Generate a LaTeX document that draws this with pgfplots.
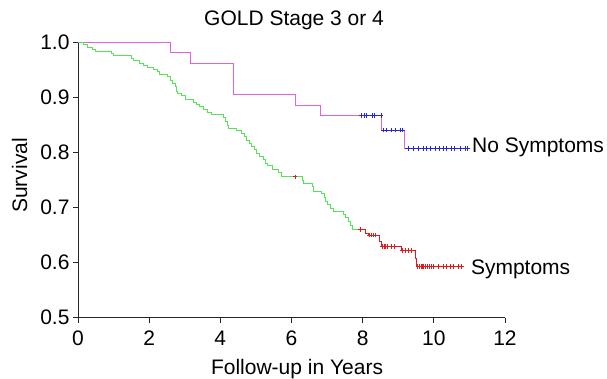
\documentclass[border=0pt]{standalone}
\usepackage{fontspec}
\setmainfont{Liberation Sans}
\usepackage{pgfplots}
\pgfplotsset{compat=1.18}
\definecolor{symgreen}{RGB}{85,228,85}
\definecolor{nosymmag}{RGB}{228,95,228}
\definecolor{censblue}{RGB}{40,40,210}
\definecolor{censred}{RGB}{228,25,25}
\newcommand\bigfont{\fontsize{21}{25}\selectfont}

\begin{document}
\begin{tikzpicture}
\begin{axis}[
  scale only axis, width=427pt, height=275pt,
  xmin=0, xmax=12, ymin=0.5, ymax=1.0,
  axis x line=bottom, axis y line=left,
  axis line style={-, line width=0.9pt, black!85},
  tick align=outside, major tick length=5pt,
  tick style={black!85, line width=0.8pt},
  xtick={0,2,4,6,8,10,12},
  ytick={0.5,0.6,0.7,0.8,0.9,1.0},
  yticklabel style={/pgf/number format/.cd, fixed, fixed zerofill, precision=1},
  xticklabel style={yshift=-5pt},
  /pgf/number format/assume math mode=true,
  tick label style={font=\bigfont},
  label style={font=\bigfont},
  title style={font=\bigfont, at={(axis description cs:0.506,1)}, anchor=base, yshift=10.7pt},
  title={GOLD Stage 3 or 4},
  xlabel={Follow-up in Years},
  xlabel style={at={(axis description cs:0.513,-0.207)}, anchor=base, inner sep=0pt},
  ylabel={Survival},
  ylabel style={at={(axis description cs:-0.1194,0.517)}, anchor=base, inner sep=0pt},
  clip=false,
  unbounded coords=jump,
]
% invisible bounding frame
\path (axis description cs:-0.1827,-0.219) rectangle (axis description cs:1.2389,1.155);

% No Symptoms (magenta)
\addplot[const plot, nosymmag, line width=0.8pt] coordinates {
(0,1.000) (2.61,0.982) (3.17,0.9625) (4.38,0.906) (6.12,0.8855) (6.82,0.867)
(8.54,0.841) (9.16,0.808) (10.96,0.808)
};
% blue horizontal parts in censored region
\addplot[censblue, line width=0.8pt] coordinates {
(7.95,0.867) (8.54,0.867) (nan,nan) (8.56,0.841) (9.15,0.841) (nan,nan) (9.18,0.808) (10.96,0.808)
};
\addplot[only marks, mark=+, mark size=2.3pt, censblue, mark options={line width=0.8pt}] coordinates {
(7.97,0.867) (8.04,0.867) (8.10,0.867) (8.28,0.867) (8.33,0.867) (8.52,0.867)
(8.58,0.841) (8.68,0.841) (8.82,0.841) (8.91,0.841) (9.07,0.841) (9.13,0.841)
(9.28,0.808) (9.42,0.808) (9.56,0.808) (9.70,0.808) (9.80,0.808) (9.89,0.808)
(10.03,0.808) (10.17,0.808) (10.26,0.808) (10.36,0.808) (10.50,0.808) (10.59,0.808)
(10.74,0.808) (10.88,0.808) (10.94,0.808)
};

% Symptoms (green then red)
\addplot[const plot, symgreen, line width=0.8pt] coordinates {
(0,1.000) (0.15,0.996) (0.26,0.992) (0.40,0.988) (0.48,0.984) (0.95,0.980)
(1.00,0.976) (1.50,0.972) (1.55,0.967) (1.72,0.963) (1.85,0.959) (1.95,0.955)
(2.12,0.951) (2.22,0.947) (2.30,0.943) (2.52,0.939) (2.59,0.932) (2.66,0.926)
(2.73,0.920) (2.76,0.912) (2.80,0.908) (2.91,0.904) (3.01,0.896) (3.24,0.892)
(3.32,0.888) (3.40,0.884) (3.52,0.878) (3.65,0.874) (3.75,0.870) (4.10,0.864)
(4.15,0.857) (4.20,0.850) (4.24,0.844) (4.45,0.840) (4.60,0.835) (4.68,0.829)
(4.74,0.823) (4.82,0.817) (4.88,0.811) (4.95,0.805) (5.02,0.799) (5.10,0.793)
(5.22,0.787) (5.27,0.781) (5.32,0.776) (5.45,0.770) (5.62,0.764) (5.72,0.756)
(6.30,0.750) (6.34,0.744) (6.58,0.738) (6.62,0.730) (6.85,0.725) (6.92,0.718)
(6.96,0.712) (7.02,0.705) (7.08,0.699) (7.18,0.693) (7.45,0.688) (7.52,0.682)
(7.60,0.675) (7.65,0.668) (7.70,0.660) (7.93,0.660)
};
\addplot[const plot, censred, line width=0.8pt] coordinates {
(7.93,0.660) (8.07,0.654) (8.16,0.650) (8.47,0.638) (8.53,0.629) (9.10,0.622)
(9.47,0.608) (9.52,0.593) (10.78,0.593)
};
\addplot[only marks, mark=+, mark size=2.3pt, censred, mark options={line width=0.8pt}] coordinates {
(6.10,0.756) (7.93,0.660)
(8.18,0.650) (8.24,0.650) (8.30,0.650) (8.36,0.650)
(8.55,0.629) (8.60,0.629) (8.65,0.629) (8.70,0.629) (8.80,0.629) (8.88,0.629)
(9.12,0.622) (9.20,0.622) (9.28,0.622) (9.38,0.622)
(9.55,0.593) (9.60,0.593) (9.64,0.593) (9.68,0.593) (9.72,0.593) (9.77,0.593)
(9.82,0.593) (9.87,0.593) (9.92,0.593) (9.99,0.593) (10.13,0.593) (10.27,0.593)
(10.36,0.593) (10.46,0.593) (10.55,0.593) (10.69,0.593) (10.78,0.593)
};

\node[font=\bigfont, anchor=base west, inner sep=0pt] at (axis cs:11.07,0.7995) {No Symptoms};
\node[font=\bigfont, anchor=base west, inner sep=0pt] at (axis cs:11.04,0.578) {Symptoms};
\end{axis}
\end{tikzpicture}
\end{document}
